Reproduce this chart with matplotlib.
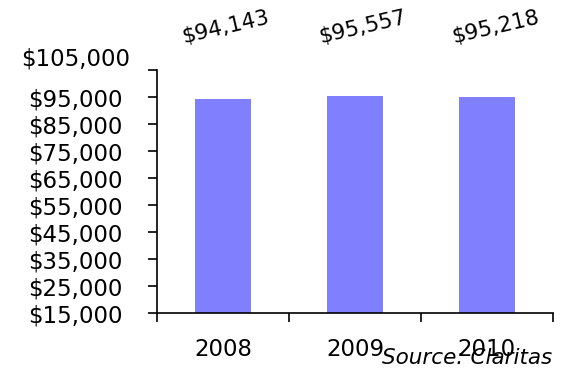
import matplotlib
matplotlib.use('Agg')
import matplotlib.pyplot as plt
import matplotlib.transforms as mtransforms

# DATA
years = ['2008', '2009', '2010']
incomes = [94143, 95557, 95218]
value_labels = ['$94,143', '$95,557', '$95,218']
yticks = [15000, 25000, 35000, 45000, 55000, 65000, 75000, 85000, 95000, 105000]

bar_color = '#8080FF'
fsize = 16.5

fig = plt.figure(figsize=(5.67, 3.79), dpi=100)
ax = fig.add_axes([0.277, 0.174, 0.698, 0.641])

x = list(range(len(years)))
ax.bar(x, incomes, width=0.42, color=bar_color, zorder=2)

ax.set_ylim(15000, 105000)
ax.set_xlim(-0.5, len(years) - 0.5)

# y axis, labels centred in the margin
ax.set_yticks(yticks)
ax.set_yticklabels(['${:,}'.format(v) for v in yticks], fontsize=fsize, ha='center')
ax.tick_params(axis='y', direction='out', length=6.5, width=1.2, pad=52)
# top label sits higher than its tick
top_lbl = ax.get_yticklabels()[-1]
top_lbl.set_transform(top_lbl.get_transform() +
                      mtransforms.ScaledTranslation(0, 10/72, fig.dpi_scale_trans))

# x axis: ticks at the boundaries, labels in the middle
ax.set_xticks([-0.5, 0.5, 1.5, 2.5])
ax.set_xticklabels([])
ax.set_xticks(x, minor=True)
ax.set_xticklabels(years, minor=True, fontsize=fsize)
ax.tick_params(axis='x', which='major', direction='out', length=6.5, width=1.2)
ax.tick_params(axis='x', which='minor', length=0, pad=18)

for s in ['top', 'right']:
    ax.spines[s].set_visible(False)
for s in ['left', 'bottom']:
    ax.spines[s].set_linewidth(1.2)

# rotated value labels above the plot
dx = [0.02, 0.06, 0.07]
for i, lbl in enumerate(value_labels):
    ax.text(i + dx[i], 120800, lbl, rotation=13,
            ha='center', va='center', fontsize=fsize - 1, clip_on=False)

fig.text(0.974, 0.03, 'Source: Claritas', ha='right', va='bottom',
         fontsize=fsize - 1, style='italic')

fig.savefig('out.png', dpi=100)
